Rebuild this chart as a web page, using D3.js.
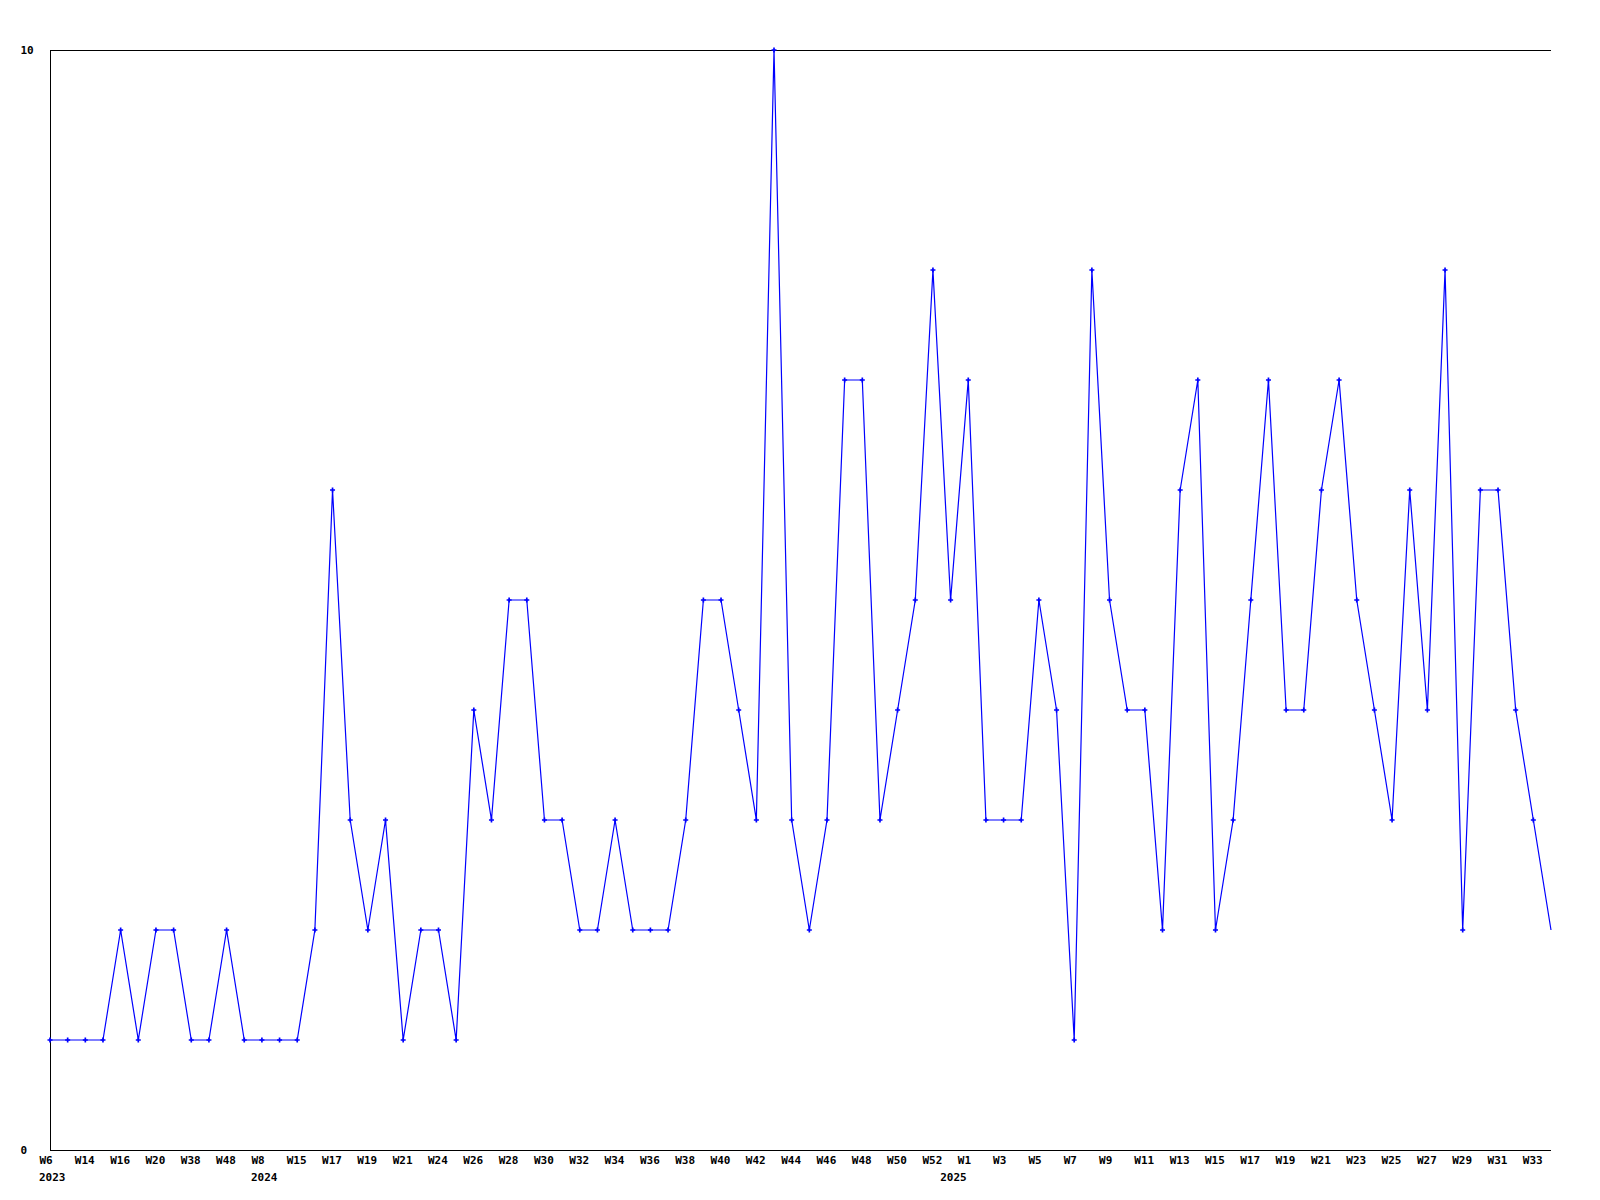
<!DOCTYPE html>
<html>
<head>
<meta charset="utf-8">
<script src="https://cdn.jsdelivr.net/npm/d3@7"></script>
<style>
  html, body { margin: 0; padding: 0; background: #fff; }
  text { font-family: "DejaVu Sans Mono", "Liberation Mono", monospace; font-weight: bold; font-size: 11px; fill: #000; }
</style>
</head>
<body>
<svg id="chart" width="1600" height="1200"></svg>
<script>
// Weekly values (86 weeks)
const values = [1,1,1,1,2,1,2,2,1,1,2,1,1,1,1,2,6,3,2,3,1,2,2,1,4,3,5,5,3,3,2,2,3,2,2,2,3,5,5,4,3,10,3,2,3,7,7,3,4,5,8,5,7,3,3,3,5,4,1,8,5,4,4,2,6,7,2,3,5,7,4,4,6,7,5,4,3,6,4,8,2,6,6,4,3,2];
// Tick labels shown on every second point
const tickLabels = ["W6","W14","W16","W20","W38","W48","W8","W15","W17","W19","W21","W24","W26","W28","W30","W32","W34","W36","W38","W40","W42","W44","W46","W48","W50","W52","W1","W3","W5","W7","W9","W11","W13","W15","W17","W19","W21","W23","W25","W27","W29","W31","W33"];
const yearLabels = ["2023","2024","2025"];
const yearTickIndex = [0, 6, 26];   // position in tickLabels where each year starts
const yTicks = [0, 10];

(function () {
const svg = d3.select("#chart");
const mLeft = 50, mRight = 1551, mTop = 50, mBottom = 1150;

const idx = values.map((d, i) => i);
const x = d3.scalePoint().domain(idx).range([mLeft, mRight]);
const y = d3.scaleLinear().domain([0, 10]).range([mBottom, mTop]);

// top frame line
svg.append("line").attr("x1", mLeft).attr("x2", mRight).attr("y1", mTop + 0.5).attr("y2", mTop + 0.5)
  .attr("stroke", "#000").attr("stroke-width", 1);

// x axis
const tickIdx = tickLabels.map((d, i) => i * 2);
const xAxis = d3.axisBottom(x).tickValues(tickIdx).tickSize(0)
  .tickFormat(d => tickLabels[d / 2]);
const gx = svg.append("g").attr("transform", `translate(0,${mBottom + 0.5})`).call(xAxis);
gx.select(".domain").attr("d", `M${mLeft},0H${mRight}`).attr("stroke", "#000");
gx.selectAll("text").attr("text-anchor", "start").attr("dx", -11).attr("y", 13).attr("dy", 0);
gx.attr("font-family", null).attr("font-size", null);

// year labels
const yearOffsets = [-11, -11, -28];
svg.append("g").selectAll("text").data(yearLabels).join("text")
  .attr("x", (d, i) => x(yearTickIndex[i] * 2) + yearOffsets[i])
  .attr("y", mBottom + 31)
  .text(d => d);

// y axis
const yAxis = d3.axisLeft(y).tickValues(yTicks).tickSize(0).tickFormat(d3.format("d"));
const gy = svg.append("g").attr("transform", `translate(${mLeft + 0.5},0)`).call(yAxis);
gy.select(".domain").attr("d", `M0,${mTop}V${mBottom}`).attr("stroke", "#000");
gy.selectAll("text").attr("text-anchor", "start").attr("x", 20 - mLeft).attr("dy", "0.35em");
gy.attr("font-family", null).attr("font-size", null);

// line
const line = d3.line().x((d, i) => x(i)).y(d => y(d));
svg.append("path").datum(values).attr("d", line)
  .attr("fill", "none").attr("stroke", "#0000ff").attr("stroke-width", 1.2);

// markers (all but last point)
const cross = d3.symbol().type(d3.symbolCross).size(14);
svg.append("g").selectAll("path").data(values.slice(0, -1)).join("path")
  .attr("transform", (d, i) => `translate(${x(i)},${y(d)})`)
  .attr("d", cross)
  .attr("fill", "#0000ff");
})();
</script>
</body>
</html>
